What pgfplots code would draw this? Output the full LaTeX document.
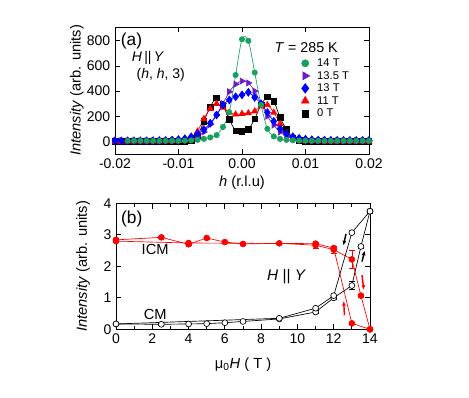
\documentclass[border=0pt]{standalone}
\usepackage{fontspec}
\setmainfont{Liberation Sans}
\usepackage{pgfplots}
\pgfplotsset{compat=1.18}
\usetikzlibrary{arrows.meta}
\definecolor{cgreen}{RGB}{25,160,95}
\definecolor{cpurple}{RGB}{105,30,200}
\definecolor{cblue}{RGB}{0,0,255}
\definecolor{cred}{RGB}{255,0,0}

\begin{document}
\begin{tikzpicture}
\useasboundingbox (0pt,0pt) rectangle (351.75pt,298.5pt);
\pgfplotsset{every axis/.append style={
    scale only axis, width=190.5pt,
    axis line style={line width=0.7pt},
    tick align=inside, tick style={line width=0.6pt, black},
    major tick length=4pt, minor tick length=2.5pt,
    ticklabel style={font=\fontsize{10.5}{12}\selectfont},
    /pgf/number format/assume math mode=true,
    label style={font=\fontsize{11}{13}\selectfont},
    clip=false,
}}

% ---------- (a) ----------
\begin{axis}[at={(86.25pt,183pt)}, anchor=south west, height=95.25pt,
    xmin=-0.02, xmax=0.02, ymin=-100, ymax=910,
    scaled x ticks=false,
    xtick={-0.02,-0.01,0,0.01,0.02},
    xticklabels={-0.02,-0.01,0.00,0.01,0.02},
    ytick={0,200,400,600,800},
    xlabel={\textit{h} (r.l.u)},
    ylabel={\textit{Intensity} (arb. units)},
    xlabel style={at={(axis description cs:0.5,-0.23)}, anchor=center},
    ylabel style={at={(axis description cs:-0.15,0.5)}, anchor=center},
    legend style={draw=none, fill=none, at={(axis cs:0.0093,672)}, anchor=north west,
        font=\fontsize{8.4}{9.5}\selectfont, inner sep=0pt,
        nodes={inner sep=0.6pt, text height=6.5pt, text depth=1.5pt}, row sep=0.2pt,
        /tikz/column 1/.style={column sep=5pt}},
    legend cell align=left,
]
% 0 T
\addplot[black, line width=0.5pt, smooth, mark=square*, mark size=2.1pt, forget plot] coordinates {
(-0.020,0)(-0.019,0)(-0.018,0)(-0.017,0)(-0.016,0)(-0.015,0)(-0.014,0)(-0.013,0)(-0.012,0)
(-0.011,0)(-0.010,0)(-0.009,3)(-0.008,10)(-0.007,45)(-0.006,160)(-0.005,275)(-0.004,345)
(-0.003,285)(-0.002,175)(-0.001,85)(0.000,80)(0.001,95)(0.002,180)(0.003,290)(0.004,355)
(0.005,320)(0.006,190)(0.007,95)(0.008,30)(0.009,8)(0.010,2)(0.011,0)(0.012,0)(0.013,0)
(0.014,0)(0.015,0)(0.016,0)(0.017,0)(0.018,0)(0.019,0)(0.020,0)};
% 11 T
\addplot[cred, line width=0.5pt, smooth, mark=triangle*, mark size=2.6pt, forget plot] coordinates {
(-0.020,0)(-0.019,0)(-0.018,0)(-0.017,0)(-0.016,0)(-0.015,0)(-0.014,0)(-0.013,0)(-0.012,2)
(-0.011,3)(-0.010,5)(-0.009,8)(-0.008,25)(-0.007,80)(-0.006,180)(-0.005,260)(-0.004,300)
(-0.003,270)(-0.002,230)(-0.001,215)(0.000,220)(0.001,225)(0.002,240)(0.003,280)(0.004,290)
(0.005,230)(0.006,140)(0.007,65)(0.008,25)(0.009,10)(0.010,5)(0.011,3)(0.012,2)(0.013,0)
(0.014,0)(0.015,0)(0.016,0)(0.017,0)(0.018,0)(0.019,0)(0.020,0)};
% 13.5 T
\addplot[cpurple, line width=0.5pt, smooth, mark=triangle*, mark options={rotate=-90}, mark size=2.6pt, forget plot] coordinates {
(-0.020,5)(-0.019,5)(-0.018,5)(-0.017,5)(-0.016,5)(-0.015,5)(-0.014,5)(-0.013,5)(-0.012,5)
(-0.011,6)(-0.010,8)(-0.009,12)(-0.008,22)(-0.007,40)(-0.006,75)(-0.005,135)(-0.004,210)
(-0.003,300)(-0.002,395)(-0.001,455)(0.000,480)(0.001,465)(0.002,400)(0.003,300)(0.004,200)
(0.005,130)(0.006,75)(0.007,40)(0.008,22)(0.009,12)(0.010,8)(0.011,6)(0.012,5)(0.013,5)
(0.014,5)(0.015,5)(0.016,5)(0.017,5)(0.018,5)(0.019,5)(0.020,5)};
% 13 T
\addplot[cblue, line width=0.5pt, smooth, mark=diamond*, mark size=2.9pt, forget plot] coordinates {
(-0.020,5)(-0.019,5)(-0.018,5)(-0.017,5)(-0.016,5)(-0.015,5)(-0.014,6)(-0.013,7)(-0.012,8)
(-0.011,11)(-0.010,15)(-0.009,22)(-0.008,37)(-0.007,60)(-0.006,95)(-0.005,145)(-0.004,210)
(-0.003,290)(-0.002,330)(-0.001,355)(0.000,370)(0.001,390)(0.002,350)(0.003,300)(0.004,230)
(0.005,160)(0.006,100)(0.007,60)(0.008,38)(0.009,25)(0.010,18)(0.011,14)(0.012,11)(0.013,10)
(0.014,9)(0.015,9)(0.016,8)(0.017,8)(0.018,8)(0.019,8)(0.020,8)};
% 14 T
\addplot[cgreen, line width=0.5pt, smooth, mark=*, mark size=2pt, forget plot] coordinates {
(-0.018,5)(-0.017,5)(-0.016,5)(-0.015,5)(-0.014,5)(-0.013,5)(-0.012,5)(-0.011,5)(-0.010,5)
(-0.009,6)(-0.008,8)(-0.007,12)(-0.006,20)(-0.005,32)(-0.004,50)(-0.003,115)(-0.002,232)
(-0.001,528)(0.000,812)(0.001,800)(0.002,548)(0.003,290)(0.004,100)(0.005,40)(0.006,20)
(0.007,12)(0.008,9)(0.009,7)(0.010,6)(0.011,5)(0.012,5)(0.013,5)(0.014,5)(0.015,5)
(0.016,5)(0.017,5)(0.018,5)(0.019,5)(0.020,5)};

\addlegendimage{only marks, mark=*, cgreen, mark size=2.7pt}
\addlegendentry{14 T}
\addlegendimage{only marks, mark=triangle*, mark options={rotate=-90}, cpurple, mark size=3.4pt}
\addlegendentry{13.5 T}
\addlegendimage{only marks, mark=diamond*, cblue, mark size=3.6pt}
\addlegendentry{13 T}
\addlegendimage{only marks, mark=triangle*, cred, mark size=3.4pt}
\addlegendentry{11 T}
\addlegendimage{only marks, mark=square*, black, mark size=2.6pt}
\addlegendentry{0 T}

\node[font=\fontsize{13}{15}\selectfont] at (axis cs:-0.0174,795) {(a)};
\node[font=\fontsize{10.7}{13}\selectfont] at (axis cs:0.0101,750) {\textit{T} = 285 K};
\node[font=\fontsize{10.5}{13}\selectfont] at (axis cs:-0.0148,662) {\textit{H}\,||\,\textit{Y}};
\node[font=\fontsize{10.5}{13}\selectfont] at (axis cs:-0.0128,527) {(\textit{h}, \textit{h}, 3)};
\end{axis}

% ---------- (b) ----------
\begin{axis}[at={(87pt,51.5pt)}, anchor=south west, height=94.5pt,
    xmin=0, xmax=14, ymin=0, ymax=4,
    xtick={0,2,...,14}, minor x tick num=1,
    ytick={0,1,2,3,4},
    xlabel={μ\textsubscript{0}\textit{H} ( T )},
    ylabel={\textit{Intensity} (arb. units)},
    xlabel style={at={(axis description cs:0.5,-0.28)}, anchor=center},
    ylabel style={at={(axis description cs:-0.13,0.5)}, anchor=center},
]
% ICM, field up
\addplot[cred, line width=0.5pt, mark=*, mark size=2.2pt,
    error bars/.cd, y dir=both, y explicit, error bar style={line width=0.5pt}] coordinates {
(0,2.84) +- (0,0.04) (2.5,2.92) +- (0,0.03) (4,2.70) +- (0,0.04) (5,2.90) +- (0,0.03)
(6,2.77) +- (0,0.03) (7,2.71) +- (0,0.03) (9,2.73) +- (0,0.03) (11,2.67) +- (0,0.09)
(12,2.53) +- (0,0.1) (13,2.22) +- (0,0.28) (13.5,1.07) +- (0,0.04) (14,0.0) +- (0,0.03)};
% ICM, field down
\addplot[cred, line width=0.5pt, mark=*, mark size=2.2pt] coordinates {
(14,0.0) (13,0.19) (12,2.58) (11,2.72) (4,2.74) (0,2.80)};
% CM, field up
\addplot[black, line width=0.5pt, mark=*, mark size=2.2pt, mark options={fill=white},
    error bars/.cd, y dir=both, y explicit, error bar style={line width=0.5pt}] coordinates {
(0,0.17) +- (0,0.02) (2.5,0.16) +- (0,0.02) (4,0.17) +- (0,0.02) (5,0.18) +- (0,0.02)
(6,0.21) +- (0,0.02) (7,0.25) +- (0,0.02) (9,0.33) +- (0,0.02) (11,0.55) +- (0,0.05)
(12,1.00) +- (0,0.05) (13,1.39) +- (0,0.12) (13.5,2.63) +- (0,0.05) (14,3.75) +- (0,0.05)};
% CM, field down
\addplot[black, line width=0.5pt, mark=*, mark size=2.2pt, mark options={fill=white}] coordinates {
(14,3.75) (13,3.07) (12,1.07) (11,0.67) (9,0.35) (0,0.17)};

\draw[black, line width=1.1pt, -{Latex[length=3.5pt,width=3pt]}] (axis cs:12.68,3.03) -- (axis cs:12.53,2.66);
\draw[black, line width=1.1pt, -{Latex[length=3.5pt,width=3pt]}] (axis cs:13.56,2.15) -- (axis cs:13.71,2.50);
\draw[cred, line width=1.1pt, -{Latex[length=3.5pt,width=3pt]}] (axis cs:13.56,1.72) -- (axis cs:13.66,1.25);
\draw[cred, line width=1.1pt, -{Latex[length=3.5pt,width=3pt]}] (axis cs:12.59,0.45) -- (axis cs:12.55,0.90);

\node[font=\fontsize{13}{15}\selectfont] at (axis cs:0.87,3.51) {(b)};
\node[font=\fontsize{11}{13}\selectfont] at (axis cs:2.16,2.53) {ICM};
\node[font=\fontsize{11}{13}\selectfont] at (axis cs:2.16,0.46) {CM};
\node[font=\fontsize{11.5}{13}\selectfont] at (axis cs:9.4,1.69) {\textit{H} || \textit{Y}};
\end{axis}
\end{tikzpicture}
\end{document}
